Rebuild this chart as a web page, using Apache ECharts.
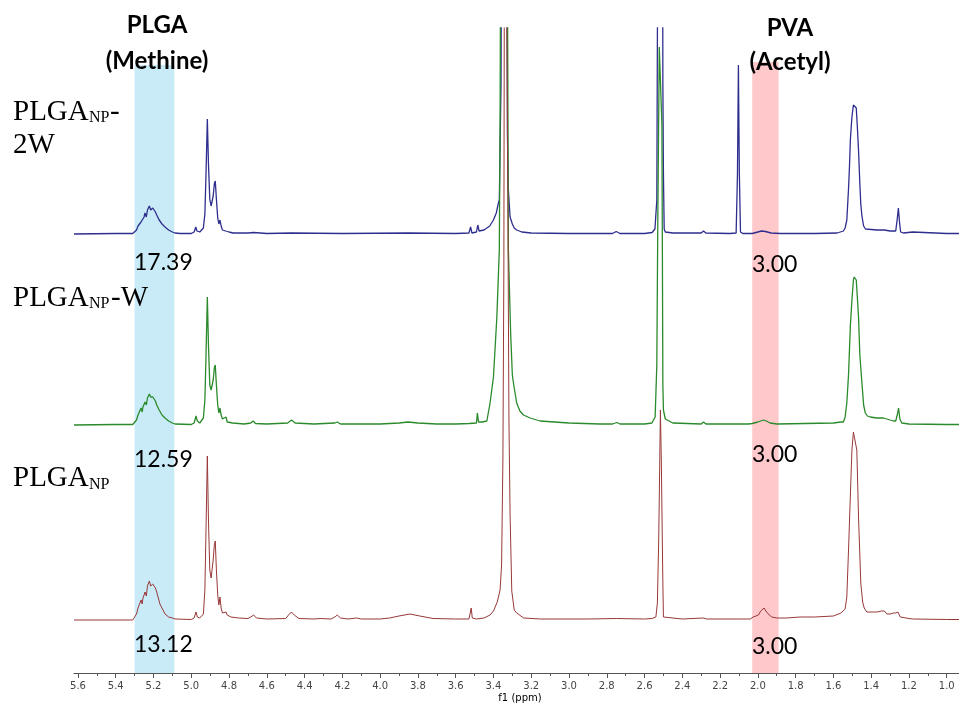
<!DOCTYPE html>
<html>
<head>
<meta charset="utf-8">
<script src="https://cdn.jsdelivr.net/npm/echarts@6/dist/echarts.min.js"></script>
<style>html,body{margin:0;padding:0;background:#fff}#c{width:959px;height:706px}</style>
</head>
<body>
<div id="c"></div>
<script>
// ---- axis tick labels (ppm) ----
const tickLabels = ['5.6','5.4','5.2','5.0','4.8','4.6','4.4','4.2','4.0','3.8','3.6','3.4','3.2','3.0','2.8','2.6','2.4','2.2','2.0','1.8','1.6','1.4','1.2','1.0'];
const minorTicks = [5.5,5.3,5.1,4.9,4.7,4.5,4.3,4.1,3.9,3.7,3.5,3.3,3.1,2.9,2.7,2.5,2.3,2.1,1.9,1.7,1.5,1.3,1.1];
const axisName = 'f1 (ppm)';

// ---- spectra: [ppm, intensity above own baseline] ----
const spec2W = [[5.621,0],[5.40,0.5],[5.31,0.5],[5.303,1],[5.29,4],[5.282,8],[5.272,7],[5.266,12],[5.26,10],[5.256,14],[5.25,17],[5.245,21],[5.238,17],[5.232,24],[5.222,28],[5.215,24],[5.21,22],[5.204,26],[5.197,27],[5.19,22],[5.183,19],[5.17,14],[5.155,10],[5.139,7],[5.12,4],[5.10,2],[5.086,1],[5.06,0.5],[5.0,0.5],[4.985,2],[4.976,7],[4.97,3],[4.955,2],[4.945,3],[4.936,6],[4.928,20],[4.922,60],[4.915,115],[4.909,70],[4.902,35],[4.895,28],[4.890,27],[4.884,38],[4.878,50],[4.873,53],[4.867,35],[4.86,16],[4.854,10],[4.848,14],[4.842,8],[4.835,4],[4.826,5],[4.818,3],[4.81,4],[4.80,2],[4.78,1],[4.70,1],[4.67,1.5],[4.60,0.5],[4.47,1],[4.2,0.5],[3.85,1],[3.6,0.5],[3.53,1],[3.521,7],[3.514,1],[3.49,2],[3.483,9],[3.476,3],[3.45,4],[3.42,8],[3.40,14],[3.385,21],[3.375,30],[3.369,34],[3.36,150],[3.355,500],[3.345,900],[3.335,900],[3.33,400],[3.326,100],[3.322,47],[3.312,17],[3.30,10],[3.29,6],[3.277,4],[3.25,2],[3.2,1],[3.0,0.5],[2.77,0.5],[2.75,2.5],[2.73,0.5],[2.6,0.5],[2.56,1.5],[2.545,5],[2.535,34],[2.53,300],[2.52,900],[2.51,900],[2.505,400],[2.503,149],[2.50,60],[2.496,5],[2.49,2],[2.45,1],[2.3,1],[2.288,3],[2.275,1],[2.15,0.5],[2.115,1],[2.108,60],[2.103,169],[2.098,60],[2.092,2],[2.08,0.5],[2.03,0.5],[2.0,2],[1.98,3],[1.96,2.5],[1.93,1],[1.88,0.5],[1.7,0.5],[1.58,1],[1.547,3],[1.538,6],[1.529,14],[1.52,45],[1.515,67],[1.51,95],[1.502,117],[1.494,129],[1.49,130],[1.485,127],[1.479,126],[1.474,110],[1.467,84],[1.46,50],[1.455,30],[1.449,18],[1.44,8],[1.43,5],[1.42,4],[1.37,4],[1.33,4],[1.30,3],[1.27,3],[1.262,15],[1.256,26],[1.25,12],[1.244,2],[1.23,1],[1.18,2],[1.17,0.5],[1.0,0.5],[0.934,0.5]];

const specW = [[5.621,0],[5.40,0.5],[5.31,0.5],[5.303,1],[5.29,5],[5.282,10],[5.272,9],[5.266,17],[5.26,13],[5.256,18],[5.25,20],[5.245,23],[5.238,20],[5.232,27],[5.222,31],[5.215,28],[5.21,26],[5.204,28],[5.197,29],[5.19,24],[5.183,20],[5.17,15],[5.155,10],[5.139,7],[5.12,4],[5.10,2],[5.086,1],[5.0,0.5],[4.985,2],[4.975,9],[4.968,4],[4.955,2],[4.945,3],[4.936,7],[4.928,25],[4.922,70],[4.915,128],[4.909,80],[4.902,40],[4.895,35],[4.890,34],[4.884,45],[4.878,57],[4.873,60],[4.867,40],[4.86,20],[4.854,12],[4.848,17],[4.842,10],[4.835,6],[4.826,5],[4.816,8],[4.81,3],[4.80,4],[4.78,2],[4.72,1],[4.685,2],[4.672,4],[4.66,1.5],[4.6,1],[4.49,2],[4.469,5],[4.45,2],[4.35,1],[4.24,2],[4.227,3],[4.21,1],[4.12,1],[4.0,1],[3.9,2],[3.852,3],[3.8,2],[3.7,1],[3.6,1],[3.53,1.5],[3.526,3],[3.52,1],[3.49,2],[3.485,12],[3.479,3],[3.46,3],[3.435,4],[3.418,22],[3.40,48],[3.382,108],[3.369,175],[3.365,300],[3.36,600],[3.35,900],[3.335,900],[3.325,400],[3.321,175],[3.309,92],[3.30,50],[3.291,38],[3.277,22],[3.26,14],[3.241,10],[3.206,7],[3.153,4],[3.0,2],[2.835,1],[2.77,1],[2.747,2.5],[2.73,1],[2.6,1],[2.561,2],[2.544,8],[2.535,60],[2.53,200],[2.522,378],[2.515,378],[2.508,300],[2.503,40],[2.50,15],[2.49,6],[2.482,4],[2.45,2],[2.3,1],[2.288,3],[2.275,1],[2.05,1],[2.03,1.5],[2.0,3],[1.985,4],[1.97,5],[1.955,4],[1.935,2],[1.9,1],[1.75,1.5],[1.6,2],[1.56,3],[1.547,3],[1.538,8],[1.529,22],[1.52,50],[1.515,75],[1.51,100],[1.502,125],[1.494,145],[1.49,148],[1.485,147],[1.479,145],[1.474,130],[1.467,108],[1.46,70],[1.449,42],[1.44,20],[1.431,12],[1.42,9],[1.405,8],[1.37,7],[1.335,7],[1.30,5],[1.282,4],[1.27,4],[1.262,10],[1.255,17],[1.248,6],[1.238,2],[1.2,1],[1.0,0.5],[0.934,0.5]];

const specNP = [[5.621,0],[5.31,0],[5.303,1],[5.29,6],[5.282,12],[5.275,10],[5.266,20],[5.26,16],[5.256,22],[5.25,25],[5.245,28],[5.238,24],[5.232,34],[5.222,39],[5.215,34],[5.21,32],[5.204,36],[5.197,38],[5.19,32],[5.183,28],[5.166,16],[5.15,10],[5.139,6],[5.12,3],[5.10,2],[5.086,1],[5.0,0.5],[4.985,2],[4.975,8],[4.968,3],[4.955,2],[4.945,3],[4.936,6],[4.928,30],[4.922,90],[4.915,164],[4.909,100],[4.902,50],[4.895,42],[4.890,40],[4.884,60],[4.878,75],[4.873,79],[4.867,50],[4.86,25],[4.854,15],[4.848,23],[4.842,12],[4.835,7],[4.826,6],[4.816,8],[4.81,5],[4.80,6],[4.79,3],[4.75,2],[4.70,1.5],[4.685,3],[4.67,5],[4.655,2],[4.6,1],[4.5,1.5],[4.485,5],[4.47,8],[4.455,5],[4.43,1.5],[4.35,1],[4.318,1.5],[4.26,1],[4.24,3],[4.227,5],[4.21,2],[4.17,1],[4.124,2],[4.1,1],[4.0,1],[3.95,2],[3.9,4],[3.842,6],[3.79,4],[3.72,1.5],[3.6,1],[3.53,1],[3.524,6],[3.518,12],[3.512,2],[3.49,1],[3.45,2],[3.418,5],[3.40,9],[3.38,18],[3.365,30],[3.357,55],[3.35,160],[3.345,350],[3.34,900],[3.33,900],[3.326,500],[3.318,200],[3.312,105],[3.303,29],[3.29,10],[3.277,7],[3.24,2],[3.15,1],[2.9,1],[2.75,1.5],[2.6,1],[2.56,1.5],[2.54,3],[2.532,17],[2.525,80],[2.521,136],[2.516,210],[2.511,157],[2.506,80],[2.503,37],[2.50,3],[2.49,1.5],[2.4,1],[2.29,2],[2.27,1],[2.1,1],[2.04,1],[2.025,3],[2.01,4],[1.997,5],[1.985,9],[1.975,11],[1.967,12],[1.958,9],[1.952,7],[1.94,5],[1.926,3],[1.90,2],[1.85,2],[1.776,3],[1.70,3],[1.6,4],[1.56,7],[1.538,11],[1.529,23],[1.52,70],[1.511,120],[1.502,170],[1.494,188],[1.485,187],[1.476,170],[1.467,103],[1.455,37],[1.445,18],[1.437,12],[1.423,8],[1.39,8],[1.37,8],[1.345,9],[1.33,9],[1.326,11],[1.317,6],[1.30,6],[1.282,7],[1.275,5],[1.27,7],[1.262,5],[1.258,8],[1.246,3],[1.2,1.5],[1.177,1],[1.0,0.5],[0.934,0.5]];

// ---- highlighted regions [from ppm, to ppm] and integral labels ----
const plgaBand = [5.30, 5.09];
const pvaBand = [2.03, 1.89];
const plgaIntegrals = ['17.39', '12.59', '13.12'];
const pvaIntegrals = ['3.00', '3.00', '3.00'];

// ---- layout (not data) ----
const X_MIN = 0.935, X_MAX = 5.621;
const Y_MAX = 645;
const OFFSETS = {w2: 439, w: 248, np: 53};
const BAND_TOP_PLGA = 608, BAND_TOP_PVA = 611;

function shift(arr, off) { return arr.map(p => [p[0], p[1] + off]); }

const chart = echarts.init(document.getElementById('c'), null, {renderer: 'canvas'});
const serif = "'Liberation Serif', 'Times New Roman', serif";
const sans = "Lato, 'Open Sans', sans-serif";

function txt(x, y, text, size, opts) {
  opts = opts || {};
  return {
    type: 'text', x: x, y: y, z: 100,
    style: {
      text: text, fontSize: size, fontFamily: opts.family || serif,
      fontWeight: opts.weight || 'normal', fill: '#000',
      textAlign: opts.align || 'left', textVerticalAlign: 'middle'
    }
  };
}

const lineSeries = (name, data, color, width) => ({
  name: name, type: 'line', data: data, showSymbol: false, symbol: 'none',
  sampling: null, clip: true, z: 3, silent: true,
  lineStyle: {color: color, width: width}
});

chart.setOption({
  animation: false,
  grid: {left: 74, right: 0, top: 28, bottom: 33, containLabel: false},
  xAxis: [{
    type: 'value', min: X_MIN, max: X_MAX, inverse: true, position: 'bottom',
    axisLine: {show: true, onZero: false, lineStyle: {color: '#555', width: 1}},
    axisTick: {show: true, length: 5, customValues: tickLabels.map(Number), lineStyle: {color: '#555'}},
    axisLabel: {show: true, customValues: tickLabels.map(Number), margin: 8,
      formatter: v => tickLabels.find(t => Math.abs(Number(t) - v) < 1e-6) || v.toFixed(1),
      fontSize: 10, fontFamily: "'DejaVu Sans', Verdana, sans-serif", color: '#444'},
    splitLine: {show: false}
  }, {
    type: 'value', min: X_MIN, max: X_MAX, inverse: true, position: 'bottom',
    axisLine: {show: false, onZero: false},
    axisTick: {show: true, length: 3, customValues: minorTicks, lineStyle: {color: '#555'}},
    axisLabel: {show: false}, splitLine: {show: false}
  }],
  yAxis: {type: 'value', min: 0, max: Y_MAX, show: false},
  series: [
    {type: 'line', data: [], z: 1, silent: true,
      markArea: {silent: true, itemStyle: {color: '#c9ebf8'},
        data: [[{xAxis: plgaBand[0], yAxis: BAND_TOP_PLGA}, {xAxis: plgaBand[1], yAxis: 0}]]}},
    {type: 'line', data: [], z: 1, silent: true,
      markArea: {silent: true, itemStyle: {color: '#ffc9cc'},
        data: [[{xAxis: pvaBand[0], yAxis: BAND_TOP_PVA}, {xAxis: pvaBand[1], yAxis: 0}]]}},
    lineSeries('PLGA_NP-2W', shift(spec2W, OFFSETS.w2), '#2e2e8e', 1.3),
    lineSeries('PLGA_NP-W', shift(specW, OFFSETS.w), '#2b8a2b', 1.3),
    lineSeries('PLGA_NP', shift(specNP, OFFSETS.np), '#983838', 1)
  ],
  graphic: [
    txt(157, 25, 'PLGA', 24, {family: sans, weight: 'bold', align: 'center'}),
    txt(157, 61, '(Methine)', 24, {family: sans, weight: 'bold', align: 'center'}),
    txt(790, 28, 'PVA', 24, {family: sans, weight: 'bold', align: 'center'}),
    txt(790, 62, '(Acetyl)', 24, {family: sans, weight: 'bold', align: 'center'}),
    // sample labels
    txt(13, 112, 'PLGA', 29), txt(89, 118, 'NP', 16), txt(110, 112, '-', 29),
    txt(13, 145, '2W', 29),
    txt(13, 298, 'PLGA', 29), txt(89, 304, 'NP', 16), txt(111, 298, '-W', 29),
    txt(13, 478, 'PLGA', 29), txt(89, 485, 'NP', 16),
    // integrals
    txt(134, 263, plgaIntegrals[0], 23, {family: sans}),
    txt(134, 460, plgaIntegrals[1], 23, {family: sans}),
    txt(134, 645, plgaIntegrals[2], 23, {family: sans}),
    txt(752, 265, pvaIntegrals[0], 23, {family: sans}),
    txt(752, 455, pvaIntegrals[1], 23, {family: sans}),
    txt(752, 647, pvaIntegrals[2], 23, {family: sans}),
    txt(520, 698, axisName, 10, {family: "'DejaVu Sans', Verdana, sans-serif", align: 'center'})
  ]
});
</script>
</body>
</html>
